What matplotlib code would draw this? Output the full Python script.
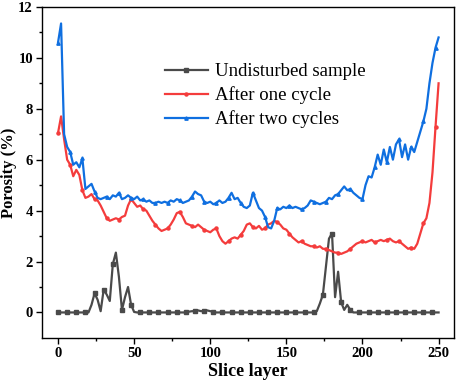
import numpy as np
import matplotlib.pyplot as plt

plt.rcParams['font.family'] = ['Liberation Serif', 'DejaVu Serif']

# slice layer (every second slice)
slices = np.arange(0, 251, 2)

undisturbed = [
    0, 0, 0, 0, 0, 0, 0, 0, 0, 0, 0,
    0.3, 0.75, 0.5, 0.05, 0.9, 0.7, 0.45, 1.9, 2.35, 1.4,
    0.1, 0.6, 1.0, 0.3, 0.02,
    0, 0, 0, 0, 0, 0, 0, 0, 0, 0, 0, 0, 0, 0, 0, 0, 0,
    0.03, 0.05, 0.05, 0.08, 0.05, 0.06, 0.08, 0.05, 0.03, 0, 0, 0.02,
    0, 0, 0, 0, 0, 0, 0, 0, 0, 0, 0, 0, 0, 0, 0, 0, 0, 0, 0, 0, 0, 0, 0, 0, 0, 0, 0, 0, 0, 0,
    0.05, 0.35, 0.7, 1.8, 2.9, 3.1, 0.6, 1.6, 0.4, 0.1, 0.3, 0.1,
    0, 0, 0, 0, 0, 0, 0, 0, 0, 0, 0, 0, 0, 0, 0, 0, 0, 0, 0, 0, 0, 0, 0, 0, 0, 0, 0, 0, 0,
]

one_cycle = [
    7.05, 7.7, 6.8, 6.0, 5.8, 5.35, 5.6, 5.4, 4.8, 4.5,
    4.55, 4.65, 4.45, 4.4, 4.2, 3.95, 3.7, 3.6, 3.65, 3.7,
    3.65, 3.75, 3.8, 4.2, 4.45, 4.3, 4.15, 4.2, 4.05, 4.0,
    3.8, 3.6, 3.45, 3.3, 3.2, 3.25, 3.3, 3.45, 3.65, 3.9,
    3.95, 3.75, 3.5, 3.45, 3.4, 3.35, 3.45, 3.35, 3.25, 3.2,
    3.15, 3.25, 3.3, 3.0, 2.8, 2.7, 2.8, 2.9, 2.95, 2.9,
    3.05, 3.2, 3.45, 3.5, 3.35, 3.3, 3.4, 3.25, 3.3, 3.45,
    3.5, 3.6, 3.55, 3.45, 3.3, 3.25, 3.1, 2.95, 2.85, 2.75,
    2.8, 2.7, 2.65, 2.6, 2.6, 2.55, 2.6, 2.5, 2.5, 2.45,
    2.4, 2.35, 2.35, 2.3, 2.35, 2.4, 2.5, 2.6, 2.7, 2.75,
    2.8, 2.75, 2.8, 2.85, 2.75, 2.8, 2.85, 2.8, 2.85, 2.9,
    2.8, 2.75, 2.8, 2.7, 2.6, 2.5, 2.55, 2.5, 2.7, 3.1,
    3.5, 3.7, 4.3, 5.5, 7.3, 9.0,
]

two_cycles = [
    10.6, 11.35, 7.0, 6.5, 6.3, 5.8, 5.9, 5.7, 6.05, 4.85,
    4.95, 5.05, 4.75, 4.5, 4.45, 4.5, 4.55, 4.45, 4.6, 4.55,
    4.7, 4.45, 4.5, 4.6, 4.5, 4.45, 4.55, 4.4, 4.45, 4.35,
    4.4, 4.3, 4.3, 4.35, 4.3, 4.35, 4.3, 4.4, 4.35, 4.45,
    4.4, 4.3, 4.35, 4.4, 4.55, 4.75, 4.65, 4.6, 4.35, 4.3,
    4.35, 4.25, 4.3, 4.4, 4.3, 4.35, 4.5, 4.7, 4.45, 4.5,
    4.3, 4.15, 4.1, 4.2, 4.7, 4.4, 4.1, 4.0, 3.75, 3.35,
    3.3, 3.6, 4.1, 4.05, 4.15, 4.1, 4.2, 4.1, 4.15, 4.1,
    4.05, 4.1, 4.2, 4.4, 4.35, 4.3, 4.25, 4.3, 4.35, 4.5,
    4.45, 4.6, 4.65, 4.8, 4.95, 4.8, 4.85, 4.7, 4.6, 4.5,
    4.45, 5.0, 5.35, 5.3, 5.7, 6.2, 5.8, 6.4, 5.9, 6.5,
    6.0, 6.6, 6.8, 6.1, 6.6, 6.0, 6.5, 6.3, 6.7, 7.1,
    7.5, 8.0, 9.0, 9.8, 10.4, 10.8,
]

fig = plt.figure(figsize=(4.57, 3.84), dpi=100)
ax = fig.add_axes([0.092, 0.12, 0.901, 0.862])

ax.plot(slices, undisturbed, color='#4a4a4a', lw=1.6, marker='s', ms=3,
        markevery=3, label='Undisturbed sample')
ax.plot(slices, one_cycle, color='#f43c3c', lw=1.6, marker='o', ms=2.2,
        markevery=4, label='After one cycle')
ax.plot(slices, two_cycles, color='#0f6fe0', lw=1.6, marker='^', ms=2.4,
        markevery=4, label='After two cycles')

ax.set_xlim(-10.5, 260)
ax.set_ylim(-1, 12)
ax.set_xticks([0, 50, 100, 150, 200, 250])
ax.set_xticks([25, 75, 125, 175, 225], minor=True)
ax.set_yticks([0, 2, 4, 6, 8, 10, 12])
ax.set_yticks([1, 3, 5, 7, 9, 11], minor=True)
ax.tick_params(which='major', direction='out', length=4, width=1, labelsize=10.5, pad=2.5)
ax.tick_params(which='minor', direction='out', length=2.5, width=1)
for lab in ax.get_xticklabels() + ax.get_yticklabels():
    lab.set_fontweight('bold')
for sp in ax.spines.values():
    sp.set_linewidth(1)

ax.set_xlabel('Slice layer', fontsize=13, fontweight='bold', labelpad=2)
ax.set_ylabel('Porosity (%)', fontsize=12, fontweight='bold', labelpad=1)

ax.legend(loc='upper left', bbox_to_anchor=(0.298, 0.83), frameon=False,
          fontsize=13.5, handlelength=2.3, labelspacing=0.33, handletextpad=0.4,
          borderpad=0, borderaxespad=0)

plt.savefig('out.png', dpi=100)
